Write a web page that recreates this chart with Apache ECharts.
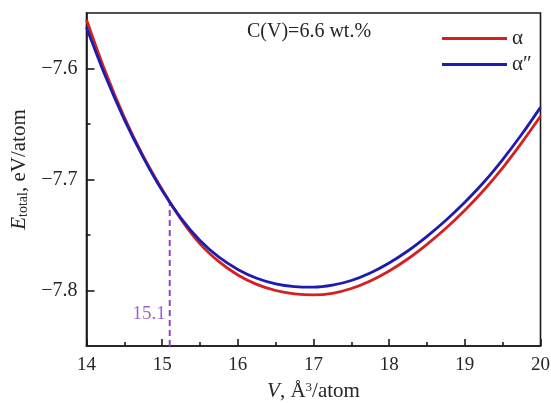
<!DOCTYPE html>
<html>
<head>
<meta charset="utf-8">
<script src="https://cdn.jsdelivr.net/npm/echarts@6/dist/echarts.min.js"></script>
<style>html,body{margin:0;padding:0;background:#fff}#c{width:551px;height:403px}</style>
</head>
<body>
<div id="c"></div>
<script>
const volumes = [14.0, 14.25, 14.5, 14.75, 15.0, 15.25, 15.5, 15.75, 16.0, 16.25, 16.5, 16.75, 17.0, 17.25, 17.5, 17.75, 18.0, 18.25, 18.5, 18.75, 19.0, 19.25, 19.5, 19.75, 20.0];
const alphaE = [-7.556, -7.603, -7.644, -7.679, -7.709, -7.736, -7.758, -7.774, -7.786, -7.7945, -7.800, -7.803, -7.804, -7.8025, -7.7982, -7.7914, -7.7824, -7.7714, -7.7584, -7.7439, -7.7277, -7.7097, -7.6895, -7.667, -7.643];
const alpha2E = [-7.563, -7.607, -7.646, -7.680, -7.710, -7.735, -7.755, -7.770, -7.781, -7.789, -7.794, -7.7965, -7.797, -7.7952, -7.791, -7.7842, -7.7752, -7.7642, -7.7512, -7.7367, -7.7205, -7.7025, -7.682, -7.6595, -7.635];
const seriesNames = ['α', 'α″'];
const markerV = 15.1;
const markerE = [-7.85, -7.721];
const markerLabel = '15.1';
const markerLabelE = -7.821;
const noteText = 'C(V)=6.6 wt.%';
const yMajor = [-7.8, -7.7, -7.6];
const yMinor = [-7.75, -7.65];

const FONT = '"Liberation Serif","Times New Roman",serif';
const INK = '#262626';
const chart = echarts.init(document.getElementById('c'), null, {renderer: 'canvas'});
const yFmt = v => '\u2212' + Math.abs(v).toFixed(1);
chart.setOption({
  animation: false,
  backgroundColor: '#fff',
  grid: {left: 86.5, right: 10.5, top: 13, bottom: 57, show: true, borderColor: '#1a1a1a', borderWidth: 1.6, containLabel: false, outerBoundsMode: 'none'},
  legend: {
    data: seriesNames, orient: 'vertical', left: 437, top: 23, icon: 'rect', itemWidth: 65, itemHeight: 3, itemGap: 5,
    textStyle: {fontFamily: FONT, fontSize: 21, color: INK}
  },
  xAxis: {
    type: 'value', min: 14, max: 20, interval: 1,
    name: '{i|V}{n|, Å}{sup|3}{n|/atom}', nameLocation: 'middle', nameGap: 35,
    nameTextStyle: {rich: {i: {fontFamily: FONT, fontSize: 21, fontStyle: 'italic', color: INK}, n: {fontFamily: FONT, fontSize: 21, color: INK}, sup: {fontFamily: FONT, fontSize: 13, color: INK, verticalAlign: 'top'}}},
    axisLine: {show: true, lineStyle: {color: '#1a1a1a', width: 1.6}},
    axisTick: {show: true, inside: true, length: 7, lineStyle: {color: '#1a1a1a', width: 1.6}},
    minorTick: {show: true, splitNumber: 2, length: 4, lineStyle: {color: '#1a1a1a', width: 1.6}},
    splitLine: {show: false},
    axisLabel: {fontFamily: FONT, fontSize: 19, color: INK, margin: 10, formatter: v => String(v)}
  },
  yAxis: [{
    type: 'value', min: -7.85, max: -7.55,
    name: '{i|E}{s|total}{n|, eV/atom}', nameLocation: 'middle', nameGap: 52,
    nameTextStyle: {padding: [0, 0, 0, 20], rich: {i: {fontFamily: FONT, fontSize: 21, fontStyle: 'italic', color: INK}, s: {fontFamily: FONT, fontSize: 14, color: INK, verticalAlign: 'bottom'}, n: {fontFamily: FONT, fontSize: 21, color: INK}}},
    axisLine: {show: true, lineStyle: {color: '#1a1a1a', width: 1.6}},
    axisTick: {show: true, inside: true, length: 8, customValues: yMajor, lineStyle: {color: '#1a1a1a', width: 1.6}},
    splitLine: {show: false},
    axisLabel: {customValues: yMajor, fontFamily: FONT, fontSize: 20, color: INK, margin: 9, formatter: yFmt}
  }, {
    type: 'value', min: -7.85, max: -7.55, position: 'left',
    axisLine: {show: false},
    axisTick: {show: true, inside: true, length: 4, customValues: yMinor, lineStyle: {color: '#1a1a1a', width: 1.6}},
    axisLabel: {show: false, customValues: yMinor},
    splitLine: {show: false}
  }],
  graphic: [{
    type: 'text', left: 247, top: 22,
    style: {text: noteText, font: '20px ' + FONT, fill: INK}
  }],
  series: [
    {
      name: 'marker', type: 'line', data: [[markerV, markerE[0]], [markerV, markerE[1]]], symbol: 'none', silent: true,
      lineStyle: {color: '#8a45c4', width: 2, type: [6, 4]}, z: 1
    },
    {
      name: 'markerText', type: 'scatter', data: [[markerV, markerLabelE]], symbolSize: 0, silent: true,
      label: {show: true, position: 'left', distance: 4, formatter: markerLabel, fontFamily: FONT, fontSize: 19, color: '#7f3fb8'}
    },
    {
      name: seriesNames[0], type: 'line', data: volumes.map((v, i) => [v, alphaE[i]]), smooth: 0.3, symbol: 'none',
      lineStyle: {color: '#d42020', width: 2.8}, itemStyle: {color: '#d42020'}, z: 3
    },
    {
      name: seriesNames[1], type: 'line', data: volumes.map((v, i) => [v, alpha2E[i]]), smooth: 0.3, symbol: 'none',
      lineStyle: {color: '#1c1cb0', width: 2.8}, itemStyle: {color: '#1c1cb0'}, z: 4
    }
  ]
});
</script>
</body>
</html>
